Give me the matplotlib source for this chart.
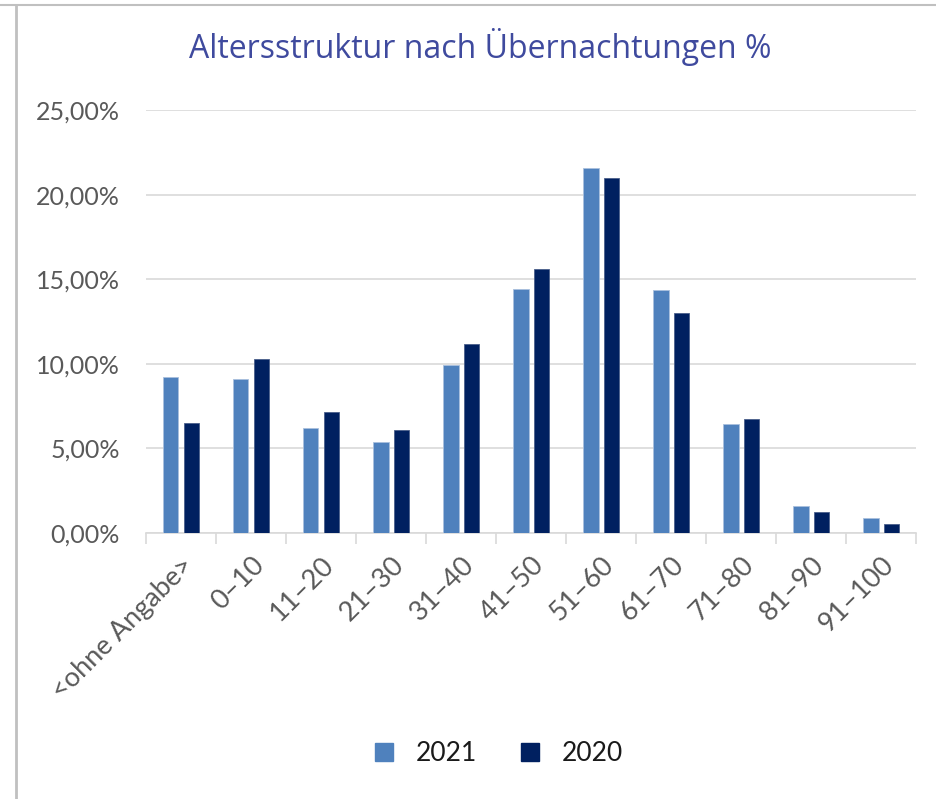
import numpy as np
import matplotlib.pyplot as plt
from matplotlib.lines import Line2D
from matplotlib.ticker import FuncFormatter

# Altersstruktur nach Übernachtungen, Anteile in %
categories = ['<ohne Angabe>', '0–10', '11–20', '21–30', '31–40', '41–50',
              '51–60', '61–70', '71–80', '81–90', '91–100']
share_2021 = [9.22, 9.10, 6.20, 5.38, 9.93, 14.42, 21.57, 14.36, 6.44, 1.60, 0.89]
share_2020 = [6.50, 10.28, 7.15, 6.09, 11.17, 15.60, 20.98, 13.00, 6.74, 1.24, 0.53]
years = ['2021', '2020']
colors = ['#4F81BD', '#002060']

plt.rcParams['font.family'] = ['Lato', 'DejaVu Sans']

fig = plt.figure(figsize=(9.36, 7.99), dpi=100)
ax = fig.add_axes([0.156, 0.333, 0.823, 0.529])

x = np.arange(len(categories))
width = 0.22
ax.bar(x - 0.147, share_2021, width, color=colors[0], edgecolor='#a9c0de', linewidth=0.6, label=years[0], zorder=3)
ax.bar(x + 0.147, share_2020, width, color=colors[1], edgecolor='#4a5f8a', linewidth=0.6, label=years[1], zorder=3)

ax.set_xlim(-0.5, len(categories) - 0.5)
ax.set_ylim(0, 25)
ax.set_yticks(np.arange(0, 26, 5))
ax.yaxis.set_major_formatter(FuncFormatter(lambda v, p: f'{v:.2f}'.replace('.', ',') + '%'))
ax.grid(axis='y', color='#d9d9d9', linewidth=1.2, zorder=0)

for s in ['top', 'right', 'left']:
    ax.spines[s].set_visible(False)
ax.spines['bottom'].set_color('#d9d9d9')
ax.spines['bottom'].set_linewidth(1.2)

# category boundary ticks like Excel
ax.set_xticks(np.arange(-0.5, len(categories)), minor=False)
ax.set_xticklabels([])
ax.tick_params(axis='x', length=8, color='#d9d9d9', width=1.2)
ax.set_xticks(x, minor=True)
ax.set_xticklabels(categories, minor=True, rotation=45, ha='right', rotation_mode='anchor',
                   fontsize=19.5, color='#595959')
ax.tick_params(axis='x', which='minor', length=0, pad=14)
ax.tick_params(axis='y', length=0, labelsize=18, labelcolor='#595959', pad=19)

fig.text(0.513, 0.941, 'Altersstruktur nach Übernachtungen %', ha='center', va='center',
         fontsize=23, color='#3F4A9E', family=['Open Sans', 'DejaVu Sans'])

handles = [Line2D([], [], marker='s', linestyle='', markersize=13, color=c) for c in colors]
fig.legend(handles, years, loc='center', bbox_to_anchor=(0.524, 0.057), ncol=2, frameon=False,
           fontsize=19, handletextpad=0.2, columnspacing=1.0, labelcolor='#1a1a1a')

# outer frame lines
fig.add_artist(Line2D([0, 1], [1 - 4.5 / 799] * 2, color='#c0c0c0', linewidth=1.5))
fig.add_artist(Line2D([15.5 / 936] * 2, [0, 1 - 4.5 / 799], color='#c0c0c0', linewidth=2))

fig.savefig('out.png', dpi=100)
